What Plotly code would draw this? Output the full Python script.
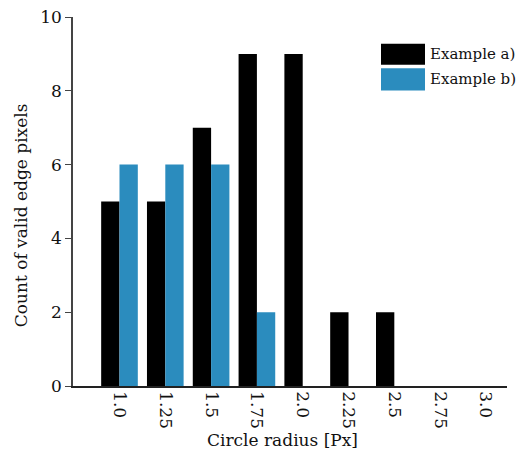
import plotly.graph_objects as go

categories = ["1.0", "1.25", "1.5", "1.75", "2.0", "2.25", "2.5", "2.75", "3.0"]
example_a = [5, 5, 7, 9, 9, 2, 2, 0, 0]
example_b = [6, 6, 6, 2, 0, 0, 0, 0, 0]
series_names = ["Example a)", "Example b)"]
colors = ["#000000", "#2b8cbe"]
y_ticks = [0, 2, 4, 6, 8, 10]
x_title = "Circle radius [Px]"
y_title = "Count of valid edge pixels"

FONT = "DejaVu Serif"

fig = go.Figure()
fig.add_trace(go.Bar(x=categories, y=example_a, name=series_names[0],
                     marker=dict(color=colors[0], line=dict(width=0)), showlegend=False))
fig.add_trace(go.Bar(x=categories, y=example_b, name=series_names[1],
                     marker=dict(color=colors[1], line=dict(width=0)), showlegend=False))

# the page body adds an 8px offset; work in window coordinates and subtract it
OFF = 8
W, H = 524 - OFF, 457 - OFF
L, R, T, B = 73, 507, 16.5, 386          # plot area in window pixels
ml, mr, mt, mb = L - OFF, W - (R - OFF), T - OFF, H - (B - OFF)
pw, ph = R - L, B - T
def px(x):
    return (x - L) / pw
def py(y):
    return 1 - (y - T) / ph

# legend drawn as boxes + text in paper coordinates
boxes = [(381, 43.3, 425, 64.3), (381, 67.7, 425, 90)]
for (x0, y0, x1, y1), c, name in zip(boxes, colors, series_names):
    fig.add_shape(type="rect", xref="paper", yref="paper",
                  x0=px(x0), x1=px(x1), y0=py(y1), y1=py(y0),
                  fillcolor=c, line=dict(width=0))
    fig.add_annotation(xref="paper", yref="paper", x=px(428), y=py((y0 + y1) / 2),
                       text=name, showarrow=False, xanchor="left", yanchor="middle",
                       font=dict(family=FONT, size=15, color="#111111"))

# axis titles
fig.add_annotation(xref="paper", yref="paper", x=px(282), y=py(440),
                   text=x_title, showarrow=False, xanchor="center", yanchor="middle",
                   font=dict(family=FONT, size=17, color="#111111"))
fig.add_annotation(xref="paper", yref="paper", x=px(21), y=py(215),
                   text=y_title, showarrow=False, xanchor="center", yanchor="middle",
                   textangle=-90, font=dict(family=FONT, size=17, color="#111111"))

fig.update_layout(
    width=W, height=H,
    margin=dict(l=ml, r=mr, t=mt, b=mb, autoexpand=False),
    plot_bgcolor="white", paper_bgcolor="white",
    barmode="group", bargap=0.2, bargroupgap=0,
    font=dict(family=FONT, size=16, color="#111111"),
)
fig.update_xaxes(
    type="category", range=[-1.015, 8.46], automargin=False,
    tickangle=90, ticks="", showline=True, linecolor="#222222", linewidth=1.5,
    showgrid=False, zeroline=False, ticklabeloverflow="allow",
    tickfont=dict(family=FONT, size=17),
)
fig.update_yaxes(
    range=[0, 10], tickvals=y_ticks, ticks="outside", ticklen=6, tickwidth=1.2,
    automargin=False, ticklabeloverflow="allow",
    tickcolor="#444444", showline=True, linecolor="#444444", linewidth=1.5,
    showgrid=False, zeroline=False,
    tickfont=dict(family=FONT, size=17),
)

fig.write_html("out.html")
